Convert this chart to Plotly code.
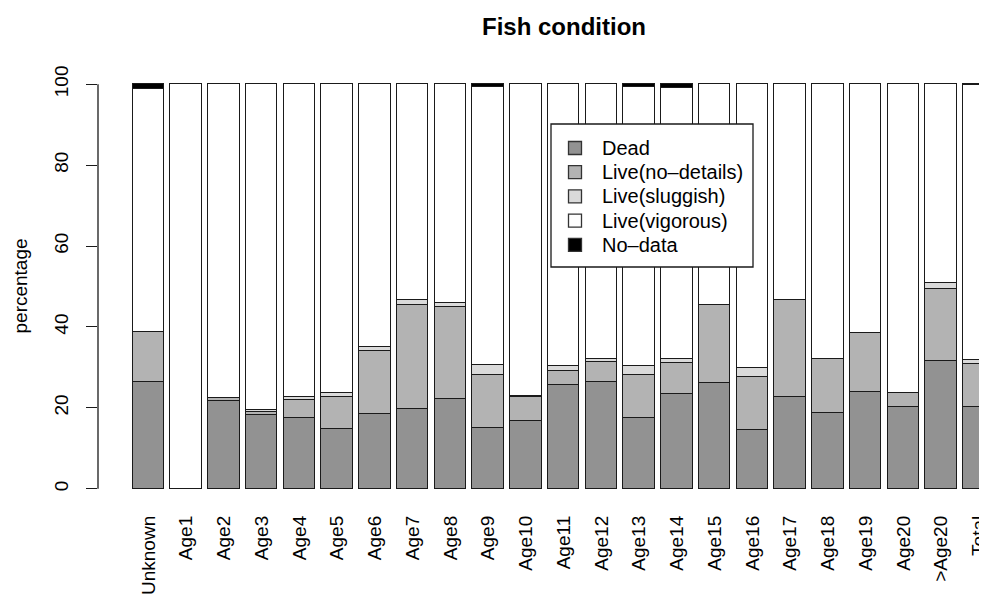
import plotly.graph_objects as go

categories = ["Unknown", "Age1", "Age2", "Age3", "Age4", "Age5", "Age6", "Age7", "Age8",
              "Age9", "Age10", "Age11", "Age12", "Age13", "Age14", "Age15", "Age16",
              "Age17", "Age18", "Age19", "Age20", ">Age20", "Total"]
dead      = [26.3, 0.0, 21.8, 18.2, 17.4, 14.8, 18.5, 19.7, 22.3, 15.1, 16.8, 25.7,
             26.5, 17.4, 23.5, 26.1, 14.6, 22.6, 18.7, 23.9, 20.3, 31.6, 20.1]
nodetails = [12.4, 0.0, 0.7, 0.8, 4.6, 7.8, 15.6, 25.7, 22.6, 13.0, 6.0, 3.5,
             4.9, 10.7, 7.5, 19.3, 13.0, 24.1, 13.3, 14.5, 3.3, 17.7, 10.8]
sluggish  = [0.0, 0.0, 0.0, 0.5, 0.8, 1.0, 1.0, 1.3, 0.9, 2.5, 0.2, 1.2,
             0.8, 2.3, 1.0, 0.0, 2.2, 0.0, 0.0, 0.0, 0.0, 1.6, 1.0]
vigorous  = [60.2, 100.0, 77.5, 80.5, 77.2, 76.4, 64.9, 53.3, 54.2, 68.7, 77.0, 69.6,
             67.8, 68.8, 67.1, 54.6, 70.2, 53.3, 68.0, 61.6, 76.4, 49.1, 67.8]
nodata    = [1.1, 0.0, 0.0, 0.0, 0.0, 0.0, 0.0, 0.0, 0.0, 0.7, 0.0, 0.0,
             0.0, 0.8, 0.9, 0.0, 0.0, 0.0, 0.0, 0.0, 0.0, 0.0, 0.3]
series_names = ["Dead", "Live(no\u2013details)", "Live(sluggish)", "Live(vigorous)", "No\u2013data"]
y_ticks = [0, 20, 40, 60, 80, 100]

series_values = [dead, nodetails, sluggish, vigorous, nodata]
colors = ["#929292", "#b3b3b3", "#dadada", "#ffffff", "#000000"]
FONT = "Liberation Sans, Arial, Helvetica, sans-serif"

# page has an 8px body margin; work in reference-picture pixels and subtract it
OFF = 8
W, H = 987 - OFF, 594 - OFF
L, T = 98 - OFF, 68 - OFF
R = 0
B = H - (505 - OFF)
PW, PH = W - L - R, H - T - B

def px(x):
    return (x - OFF - L) / PW

def py(y):
    return (H - B - (y - OFF)) / PH

fig = go.Figure()
for name, vals, col in zip(series_names, series_values, colors):
    fig.add_trace(go.Bar(
        x=categories, y=vals, name=name, width=0.833,
        marker=dict(color=col, line=dict(color="#1a1a1a", width=1.3)),
        showlegend=False,
    ))

shapes = []
annotations = []
# y axis line from 0 to 100 (R style)
shapes.append(dict(type="line", xref="paper", yref="y", x0=0, x1=0, y0=0, y1=100,
                   line=dict(color="#1a1a1a", width=1.3)))
# legend box
shapes.append(dict(type="rect", xref="paper", yref="paper",
                   x0=px(551), x1=px(753), y0=py(124), y1=py(267),
                   fillcolor="white", line=dict(color="#1a1a1a", width=1.3), layer="above"))
for i, (name, col) in enumerate(zip(series_names, colors)):
    cy = 148 + i * 24.2
    shapes.append(dict(type="rect", xref="paper", yref="paper",
                       x0=px(568.5), x1=px(581.5), y0=py(cy - 6.5), y1=py(cy + 6.5),
                       fillcolor=col, line=dict(color="#333333", width=1.3), layer="above"))
    annotations.append(dict(x=px(600), y=py(cy), xref="paper", yref="paper", text=name,
                            showarrow=False, xanchor="left", yanchor="middle",
                            font=dict(family=FONT, size=20, color="black")))

annotations.append(dict(x=px(20), y=0.5, xref="paper", yref="paper", text="percentage",
                        textangle=-90, showarrow=False, xanchor="center", yanchor="middle",
                        font=dict(family=FONT, size=19, color="black")))

fig.update_layout(
    width=W, height=H, barmode="stack", bargap=0,
    margin=dict(l=L, r=R, t=T, b=B, autoexpand=False),
    paper_bgcolor="white", plot_bgcolor="white",
    title=dict(text="<b>Fish condition</b>", x=(564 - OFF) / W, xref="container",
               xanchor="center", y=1 - (27 - OFF) / H, yref="container", yanchor="middle",
               font=dict(family=FONT, size=24, color="black")),
    font=dict(family=FONT, size=19, color="black"),
    shapes=shapes, annotations=annotations,
)
fig.update_xaxes(type="category", range=[-1.335, 22.215], showline=False, showgrid=False,
                 zeroline=False, ticks="", tickangle=-90, ticklabelstandoff=6,
                 tickfont=dict(family=FONT, size=19, color="black"))
fig.update_yaxes(range=[-4, 104], showline=False, showgrid=False, zeroline=False,
                 tickvals=y_ticks, ticks="outside", ticklen=11, tickwidth=1.3,
                 tickcolor="#1a1a1a", tickangle=-90, ticklabelstandoff=10,
                 tickfont=dict(family=FONT, size=19, color="black"))

fig.write_html("out.html")
